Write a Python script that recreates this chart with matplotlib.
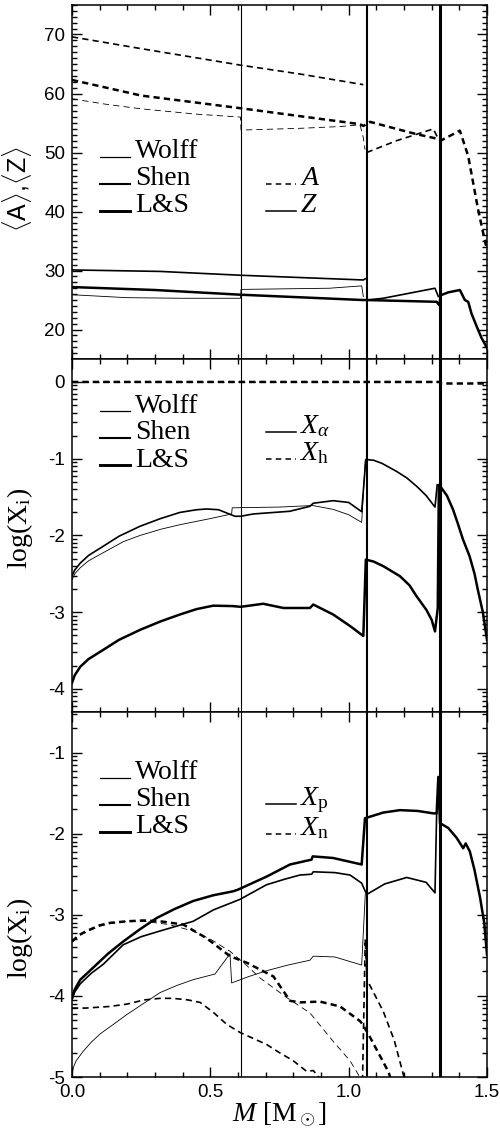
import numpy as np
import matplotlib
matplotlib.use('Agg')
import matplotlib.pyplot as plt
from matplotlib.ticker import FixedLocator, MultipleLocator, FormatStrFormatter

nan = np.nan
plt.rcParams['axes.unicode_minus'] = False
plt.rcParams['mathtext.fontset'] = 'custom'
plt.rcParams['mathtext.rm'] = 'Liberation Serif'
plt.rcParams['mathtext.it'] = 'Liberation Serif:italic'
plt.rcParams['mathtext.bf'] = 'Liberation Serif:bold'
plt.rcParams['lines.scale_dashes'] = False

# ---------------- data ----------------
models = ['Wolff', 'Shen', 'L&S']
transition_M = [0.61, 1.068, 1.33]

# top panel: mean mass number A (dashed) and charge Z (solid)
m_wolff_A = [0.0, 0.12, 0.25, 0.45, 0.609, 0.611, 0.824, 0.969, 1.041, 1.053, 1.059]
wolff_A = [59.1, 58.2, 57.4, 56.5, 56.0, 53.8, 54.1, 54.4, 54.7, 52.5, 50.5]
m_shen_A = [0.0, 0.25, 0.61, 0.824, 1.053, nan, 1.065, 1.173, 1.306, 1.324]
shen_A = [69.6, 67.6, 64.8, 63.3, 61.5, nan, 50.0, 52.0, 54.0, 52.3]
m_ls_A = [0.0, 0.25, 0.61, 1.041, 1.053, 1.077, 1.173, 1.246, 1.324, 1.332, 1.402, 1.432, 1.468, 1.486, 1.5]
ls_A = [62.3, 59.65, 57.5, 54.8, 54.5, 55.2, 54.0, 53.1, 52.3, 52.0, 53.7, 49.4, 40.3, 36.4, 33.5]

m_wolff_Z = [0.0, 0.198, 0.4, 0.609, 0.611, 0.93, 1.047, 1.053]
wolff_Z = [25.9, 25.4, 25.3, 25.3, 26.8, 27.0, 27.4, 25.6]
m_shen_Z = [0.0, 0.318, 0.61, 1.053, 1.06, nan, 1.065, 1.125, 1.312, 1.324]
shen_Z = [30.1, 29.85, 29.2, 28.4, 28.6, nan, 25.0, 25.3, 27.0, 25.6]
m_ls_Z = [0.0, 0.3, 0.61, 1.053, 1.065, 1.318, 1.328, 1.332, 1.36, 1.402, 1.42, 1.432, 1.444, 1.463, 1.48, 1.5]
ls_Z = [27.2, 26.7, 25.9, 25.0, 25.0, 24.7, 24.1, 25.8, 26.3, 26.7, 25.0, 24.7, 22.7, 20.5, 18.6, 16.9]

# middle panel: log X_alpha (solid) and log X_h (dashed)
m_wolff_a = [0.0, 0.01, 0.03, 0.06, 0.1, 0.186, 0.246, 0.32, 0.39, 0.5, 0.577, 0.579, 0.75, 0.87, 0.944,
             1.0, 1.047, 1.06]
wolff_a = [-2.58, -2.50, -2.42, -2.33, -2.25, -2.08, -2.00, -1.92, -1.86, -1.78, -1.72, -1.64, -1.63, -1.61,
           -1.66, -1.73, -1.83, -1.02]
m_shen_a = [0.0, 0.01, 0.03, 0.06, 0.1, 0.17, 0.246, 0.32, 0.39, 0.45, 0.487, 0.53, 0.589, 0.61, 0.655,
            0.787, 0.86, 0.872, 0.944, 1.0, 1.047, 1.062, 1.09, 1.12, 1.173, 1.21, 1.246, 1.28, 1.312, 1.32]
shen_a = [-2.53, -2.45, -2.36, -2.26, -2.17, -2.01, -1.88, -1.78, -1.70, -1.665, -1.655, -1.665, -1.75,
          -1.75, -1.72, -1.685, -1.62, -1.58, -1.547, -1.57, -1.69, -1.01, -1.02, -1.06, -1.165, -1.25,
          -1.36, -1.48, -1.63, -1.34]
m_ls_a = [0.0, 0.01, 0.03, 0.06, 0.1, 0.17, 0.246, 0.32, 0.39, 0.45, 0.51, 0.58, 0.61, 0.691, 0.764, 0.86,
          0.872, 0.944, 1.005, 1.053, 1.062, 1.09, 1.125, 1.185, 1.22, 1.245, 1.281, 1.3, 1.312, 1.322,
          1.326, 1.335, 1.355, 1.377, 1.395, 1.413, 1.437, 1.455, 1.467, 1.485, 1.5]
ls_a = [-3.92, -3.82, -3.71, -3.61, -3.52, -3.36, -3.23, -3.12, -3.03, -2.96, -2.915, -2.92, -2.93, -2.89,
        -2.945, -2.945, -2.90, -3.03, -3.18, -3.31, -2.315, -2.34, -2.40, -2.53, -2.65, -2.79, -2.97, -3.1,
        -3.25, -2.945, -1.34, -1.38, -1.48, -1.66, -1.85, -2.05, -2.27, -2.5, -2.71, -3.0, -3.36]

m_wolff_h = [0.0, 1.06]
wolff_h = [0.0, 0.0]
m_shen_h = [0.0, 1.32]
shen_h = [0.0, 0.0]
m_ls_h = [0.0, 1.33, 1.335, 1.5]
ls_h = [0.0, 0.0, -0.02, -0.02]

# bottom panel: log X_p (solid) and log X_n (dashed)
m_wolff_p = [0.0, 0.005, 0.015, 0.041, 0.07, 0.101, 0.15, 0.198, 0.26, 0.318, 0.38, 0.438, 0.517, 0.571,
             0.577, 0.64, 0.703, 0.78, 0.86, 0.872, 0.95, 1.047, 1.06]
wolff_p = [-4.97, -4.88, -4.80, -4.68, -4.57, -4.47, -4.35, -4.23, -4.09, -3.96, -3.87, -3.80, -3.73, -3.48,
           -3.84, -3.76, -3.69, -3.62, -3.56, -3.51, -3.52, -3.62, -2.75]
m_shen_p = [0.0, 0.01, 0.03, 0.07, 0.113, 0.185, 0.25, 0.318, 0.438, 0.511, 0.607, 0.703, 0.77, 0.824,
            0.866, 0.872, 0.95, 1.005, 1.047, 1.065, 1.13, 1.21, 1.28, 1.312, 1.318]
shen_p = [-4.05, -3.95, -3.85, -3.72, -3.61, -3.37, -3.27, -3.20, -3.08, -2.94, -2.81, -2.63, -2.56, -2.51,
          -2.50, -2.47, -2.48, -2.51, -2.61, -2.75, -2.62, -2.54, -2.60, -2.73, -1.75]
m_ls_p = [0.0, 0.01, 0.03, 0.077, 0.13, 0.185, 0.245, 0.306, 0.37, 0.438, 0.51, 0.583, 0.6, 0.703, 0.788,
          0.866, 0.87, 0.944, 1.047, 1.059, 1.125, 1.185, 1.25, 1.306, 1.318, 1.324, 1.33, 1.36, 1.39,
          1.414, 1.423, 1.438, 1.455, 1.475, 1.49, 1.5]
ls_p = [-4.02, -3.92, -3.80, -3.65, -3.48, -3.33, -3.18, -3.04, -2.93, -2.83, -2.76, -2.71, -2.69, -2.53,
        -2.38, -2.32, -2.28, -2.30, -2.38, -1.81, -1.74, -1.71, -1.72, -1.75, -1.75, -1.30, -1.87, -1.93,
        -2.05, -2.18, -2.12, -2.22, -2.45, -2.79, -3.1, -3.49]

m_wolff_n = [0.0, 0.025, 0.053, 0.1, 0.137, 0.2, 0.258, 0.35, 0.438, 0.5, 0.571, 0.63, 0.68, 0.776, 0.86,
             0.944, 1.005, 1.035, 1.045]
wolff_n = [-3.33, -3.26, -3.21, -3.14, -3.11, -3.08, -3.08, -3.12, -3.20, -3.30, -3.45, -3.62, -3.78, -4.02,
           -4.21, -4.56, -4.80, -4.97, -5.1]
m_shen_n = [0.0, 0.05, 0.137, 0.2, 0.26, 0.318, 0.366, 0.42, 0.463, 0.51, 0.559, 0.607, 0.704, 0.75, 0.80,
            0.848, 0.872, 0.905, nan, 1.05, 1.060, 1.066, 1.125, 1.165, 1.2, 1.205]
shen_n = [-4.15, -4.15, -4.13, -4.10, -4.05, -4.03, -4.03, -4.05, -4.08, -4.20, -4.35, -4.45, -4.60, -4.70,
          -4.80, -4.93, -4.92, -5.05, nan, -5.05, -3.3, -3.80, -4.19, -4.55, -5.0, -5.05]
m_ls_n = [0.0, 0.025, 0.053, 0.1, 0.137, 0.2, 0.258, 0.318, 0.402, 0.487, 0.571, 0.631, 0.728, 0.788, 0.824,
          0.896, 0.969, 1.041, 1.05, 1.071, 1.143, 1.155]
ls_n = [-3.33, -3.25, -3.20, -3.13, -3.10, -3.08, -3.07, -3.08, -3.12, -3.29, -3.51, -3.59, -3.76, -4.06,
        -4.08, -4.07, -4.13, -4.31, -4.35, -4.47, -4.93, -5.05]

# ---------------- styles ----------------
lw_model = [0.6, 1.2, 1.8]
lw_vline = [0.8, 1.5, 2.2]
DASH = (4.5, 3.0)
SERIF = 'Liberation Serif'
SANS = 'Liberation Sans'

fig = plt.figure(figsize=(5, 11.33), dpi=100)
L, W = 0.144, 0.830
ax1 = fig.add_axes([L, 0.6831, W, 0.3125])
ax2 = fig.add_axes([L, 0.3716, W, 0.3116])
ax3 = fig.add_axes([L, 0.0494, W, 0.3222])


def style(ax):
    ax.set_xlim(0, 1.5)
    ax.xaxis.set_major_locator(MultipleLocator(0.5))
    ax.xaxis.set_minor_locator(MultipleLocator(0.1))
    ax.tick_params(which='both', direction='in', top=True, right=True, width=1.0)
    ax.tick_params(which='major', length=7.2, labelsize=13.5, pad=5)
    ax.tick_params(which='minor', length=3.6)
    for s in ax.spines.values():
        s.set_linewidth(1.1)
    for x, lw in zip(transition_M, lw_vline):
        ax.axvline(x, color='black', lw=lw, zorder=1)


def log_minor(lo, hi):
    vals = []
    for n in range(-7, 2):
        for k in range(2, 10):
            v = n + np.log10(k)
            if lo < v < hi:
                vals.append(v)
    return vals


def legend_block(ax, rows_y, extra):
    for name, lw, y in zip(models, lw_model, rows_y):
        ax.plot([0.0675, 0.1398], [y + 0.004, y + 0.004], transform=ax.transAxes, color='black',
                lw=lw + 0.3, clip_on=False)
        ax.text(0.152, y, name, transform=ax.transAxes, fontsize=20, family=SERIF, va='baseline')
    for lab, ls, y in extra:
        ln, = ax.plot([0.467, 0.540], [y + 0.004, y + 0.004], transform=ax.transAxes, color='black',
                      lw=1.1, clip_on=False)
        if ls == 'dash':
            ln.set_dashes((4.0, 3.0))
        ax.text(0.549, y, lab, transform=ax.transAxes, fontsize=20, family=SERIF, va='baseline')


def draw(ax, ms, ys, dashed):
    for m, y, lw in zip(ms, ys, lw_model):
        ln, = ax.plot(m, y, color='black', lw=lw, zorder=3)
        if dashed:
            ln.set_dashes(DASH)


# ---- top panel ----
style(ax1)
draw(ax1, [m_wolff_A, m_shen_A, m_ls_A], [wolff_A, shen_A, ls_A], True)
draw(ax1, [m_wolff_Z, m_shen_Z, m_ls_Z], [wolff_Z, shen_Z, ls_Z], False)
ax1.set_ylim(15, 75)
ax1.yaxis.set_major_locator(FixedLocator([20, 30, 40, 50, 60, 70]))
ax1.yaxis.set_minor_locator(MultipleLocator(1))
ax1.yaxis.set_major_formatter(FormatStrFormatter('%d'))
ax1.set_xticklabels([])
ax1.set_ylabel(r'$\langle$A$\rangle$,$\langle$Z$\rangle$', fontsize=18, family=SANS)
ax1.yaxis.set_label_coords(-0.092, 0.48)
legend_block(ax1, [0.568, 0.4915, 0.415], [(r'$A$', 'dash', 0.4915), (r'$Z$', 'solid', 0.415)])

# ---- middle panel ----
style(ax2)
draw(ax2, [m_wolff_h, m_shen_h, m_ls_h], [wolff_h, shen_h, ls_h], True)
draw(ax2, [m_wolff_a, m_shen_a, m_ls_a], [wolff_a, shen_a, ls_a], False)
ax2.set_ylim(-4.3, 0.3)
ax2.yaxis.set_major_locator(FixedLocator([0, -1, -2, -3, -4]))
ax2.yaxis.set_minor_locator(FixedLocator(log_minor(-4.3, 0.3)))
ax2.yaxis.set_major_formatter(FormatStrFormatter('%d'))
ax2.set_xticklabels([])
ax2.set_ylabel(r'log(X$_{\rm i}$)', fontsize=20, family=SERIF)
ax2.yaxis.set_label_coords(-0.088, 0.52)
legend_block(ax2, [0.848, 0.773, 0.695], [(r'$X_\alpha$', 'solid', 0.790), (r'$X_{\rm h}$', 'dash', 0.7125)])

# ---- bottom panel ----
style(ax3)
draw(ax3, [m_wolff_n, m_shen_n, m_ls_n], [wolff_n, shen_n, ls_n], True)
draw(ax3, [m_wolff_p, m_shen_p, m_ls_p], [wolff_p, shen_p, ls_p], False)
ax3.set_ylim(-5, -0.5)
ax3.yaxis.set_major_locator(FixedLocator([-1, -2, -3, -4, -5]))
ax3.yaxis.set_minor_locator(FixedLocator(log_minor(-5, -0.5)))
ax3.yaxis.set_major_formatter(FormatStrFormatter('%d'))
ax3.xaxis.set_major_formatter(FormatStrFormatter('%.1f'))
ax3.set_ylabel(r'log(X$_{\rm i}$)', fontsize=20, family=SERIF)
ax3.yaxis.set_label_coords(-0.088, 0.38)
ax3.set_xlabel(r'$M$ [M$_\odot$]', fontsize=20, family=SERIF, labelpad=0)
legend_block(ax3, [0.8156, 0.7425, 0.6677], [(r'$X_{\rm p}$', 'solid', 0.745), (r'$X_{\rm n}$', 'dash', 0.663)])

for ax in (ax1, ax2, ax3):
    for t in ax.get_xticklabels() + ax.get_yticklabels():
        t.set_fontfamily(SANS)

fig.savefig('out.png', dpi=100)
